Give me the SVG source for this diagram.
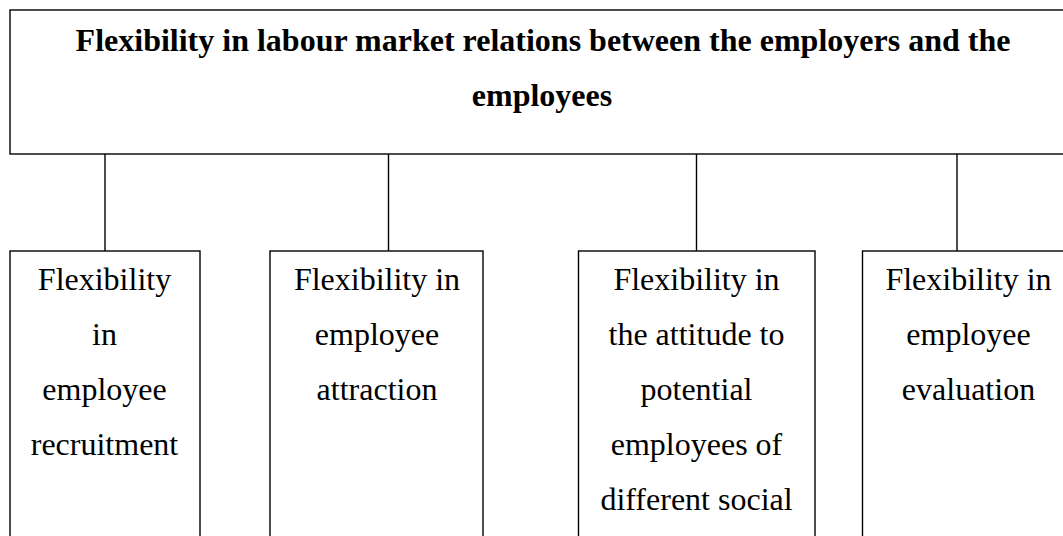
<svg xmlns="http://www.w3.org/2000/svg" width="1063" height="536" viewBox="0 0 1063 536">
  <style>
    .box { fill: #ffffff; stroke: #000000; stroke-width: 1.4; }
    .link { fill: none; stroke: #000000; stroke-width: 1.4; }
    .title { font-family: "Liberation Serif", "Times New Roman", serif; font-weight: bold; font-size: 32px; fill: #000000; text-anchor: middle; }
    .label { font-family: "Liberation Serif", "Times New Roman", serif; font-size: 32px; fill: #000000; text-anchor: middle; }
  </style>
  <rect width="1063" height="536" fill="#ffffff"/>

  <!-- connectors from the header box down to each child box -->
  <g id="connectors">
    <line class="link" x1="105" y1="154" x2="105" y2="251"/>
    <line class="link" x1="388.5" y1="154" x2="388.5" y2="251"/>
    <line class="link" x1="696.5" y1="154" x2="696.5" y2="251"/>
    <line class="link" x1="957" y1="154" x2="957" y2="251"/>
  </g>

  <g id="header">
    <rect class="box" x="10" y="10" width="1066" height="144"/>
    <text class="title" x="543" y="51">Flexibility in labour market relations between the employers and the</text>
    <text class="title" x="542" y="106">employees</text>
  </g>

  <g id="recruitment">
    <rect class="box" x="10" y="251" width="190" height="300"/>
    <text class="label" x="104.5" y="290">Flexibility</text>
    <text class="label" x="104.5" y="345">in</text>
    <text class="label" x="104.5" y="400">employee</text>
    <text class="label" x="104.5" y="455">recruitment</text>
  </g>

  <g id="attraction">
    <rect class="box" x="270" y="251" width="213" height="300"/>
    <text class="label" x="377" y="289.5">Flexibility in</text>
    <text class="label" x="377" y="344.5">employee</text>
    <text class="label" x="377" y="399.5">attraction</text>
  </g>

  <g id="attitude">
    <rect class="box" x="578.5" y="251" width="236.5" height="300"/>
    <text class="label" x="696.5" y="290">Flexibility in</text>
    <text class="label" x="696.5" y="345">the attitude to</text>
    <text class="label" x="696.5" y="400">potential</text>
    <text class="label" x="696.5" y="455">employees of</text>
    <text class="label" x="696.5" y="510">different social</text>
  </g>

  <g id="evaluation">
    <rect class="box" x="862.5" y="251" width="213" height="300"/>
    <text class="label" x="968.5" y="290">Flexibility in</text>
    <text class="label" x="968.5" y="345">employee</text>
    <text class="label" x="968.5" y="400">evaluation</text>
  </g>
</svg>
